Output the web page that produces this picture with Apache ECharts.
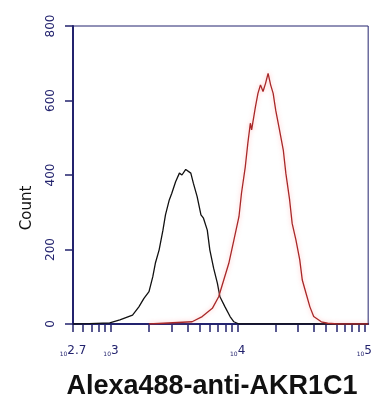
<!DOCTYPE html>
<html>
<head>
<meta charset="utf-8">
<script src="https://cdn.jsdelivr.net/npm/echarts@6/dist/echarts.min.js"></script>
<style>
  html, body { margin: 0; padding: 0; background: #fff; }
  #chart { width: 375px; height: 405px; }
</style>
</head>
<body>
<div id="chart"></div>
<script>
// x values are log10(fluorescence intensity)
const controlLog = [2.70, 2.83, 2.99, 3.07, 3.17, 3.22, 3.26, 3.30, 3.33, 3.35, 3.38, 3.41, 3.43, 3.46, 3.48, 3.51, 3.54, 3.56, 3.59, 3.63, 3.65, 3.68, 3.71, 3.73, 3.76, 3.78, 3.81, 3.84, 3.86, 3.90, 3.94, 3.97, 4.01, 5.03]
const controlCount = [0, 1, 3, 11, 24, 46, 69, 87, 127, 163, 199, 252, 293, 333, 351, 382, 405, 400, 415, 405, 378, 342, 293, 284, 252, 199, 150, 109, 73, 46, 20, 6, 0, 0]

const stainedLog = [3.30, 3.64, 3.72, 3.80, 3.85, 3.89, 3.93, 3.97, 4.01, 4.03, 4.06, 4.08, 4.10, 4.11, 4.14, 4.16, 4.18, 4.20, 4.22, 4.24, 4.26, 4.28, 4.30, 4.33, 4.36, 4.38, 4.41, 4.43, 4.46, 4.49, 4.51, 4.54, 4.57, 4.60, 4.66, 4.71, 4.79, 5.03]
const stainedCount = [0, 6, 20, 42, 73, 118, 163, 225, 288, 351, 422, 485, 539, 521, 583, 619, 642, 624, 646, 673, 642, 619, 574, 521, 467, 405, 333, 270, 225, 172, 118, 82, 46, 20, 6, 2, 0, 0]

const majorTicks = [2.7, 3, 4, 5]
const minorValues = [600, 700, 800, 900, 2000, 3000, 4000, 5000, 6000, 7000, 8000, 9000,
  20000, 30000, 40000, 50000, 60000, 70000, 80000, 90000]

const navy = '#23236e'
const chart = echarts.init(document.getElementById('chart'))

const tickValues = majorTicks.concat(minorValues.map((v) => Math.log10(v)))

const option = {
  animation: false,
  backgroundColor: '#fff',
  title: {
    text: 'Alexa488-anti-AKR1C1',
    left: 207,
    textAlign: 'center',
    top: 368,
    textStyle: { fontFamily: 'Liberation Sans', fontSize: 27, fontWeight: 'bold', color: '#111' }
  },
  grid: {
    left: 73, right: 4, top: 26, bottom: 81,
    show: true, borderColor: navy, borderWidth: 1, backgroundColor: '#fff'
  },
  xAxis: {
    type: 'value',
    min: 2.7,
    max: 5.03,
    axisLine: { show: true, lineStyle: { color: navy, width: 2 } },
    axisTick: { show: true, length: 8, customValues: tickValues, lineStyle: { color: navy, width: 1.5 } },
    splitLine: { show: false },
    axisLabel: {
      customValues: majorTicks,
      margin: 21,
      formatter: (v) => '{b|10}{e|' + (Math.abs(v - 2.7) < 1e-6 ? '2.7' : Math.round(v)) + '}',
      rich: {
        b: { fontFamily: 'DejaVu Sans', fontSize: 6, color: navy, verticalAlign: 'bottom', padding: [4, 0, 0, 0] },
        e: { fontFamily: 'DejaVu Sans', fontSize: 12, color: navy, verticalAlign: 'bottom' }
      }
    }
  },
  yAxis: {
    type: 'value',
    min: 0,
    max: 800,
    interval: 200,
    axisLine: { show: true, lineStyle: { color: navy, width: 2 } },
    axisTick: { show: true, length: 8, lineStyle: { color: navy, width: 1.5 } },
    splitLine: { show: false },
    axisLabel: { rotate: 90, margin: 16, fontFamily: 'DejaVu Sans', fontSize: 12, color: navy }
  },
  graphic: [{
    type: 'text',
    x: 27,
    y: 208,
    rotation: Math.PI / 2,
    style: {
      text: 'Count',
      fontFamily: 'DejaVu Sans',
      fontSize: 15,
      fill: '#111',
      textAlign: 'center',
      textVerticalAlign: 'middle'
    }
  }],
  series: [
    {
      name: 'control',
      type: 'line',
      showSymbol: false,
      data: controlLog.map((x, i) => [x, controlCount[i]]),
      lineStyle: { color: '#111', width: 1.3 }
    },
    {
      name: 'AKR1C1',
      type: 'line',
      showSymbol: false,
      data: stainedLog.map((x, i) => [x, stainedCount[i]]),
      lineStyle: { color: '#a82828', width: 1.3, shadowColor: 'rgba(255,120,120,0.5)', shadowBlur: 4 }
    }
  ]
}

chart.setOption(option)
</script>
</body>
</html>
